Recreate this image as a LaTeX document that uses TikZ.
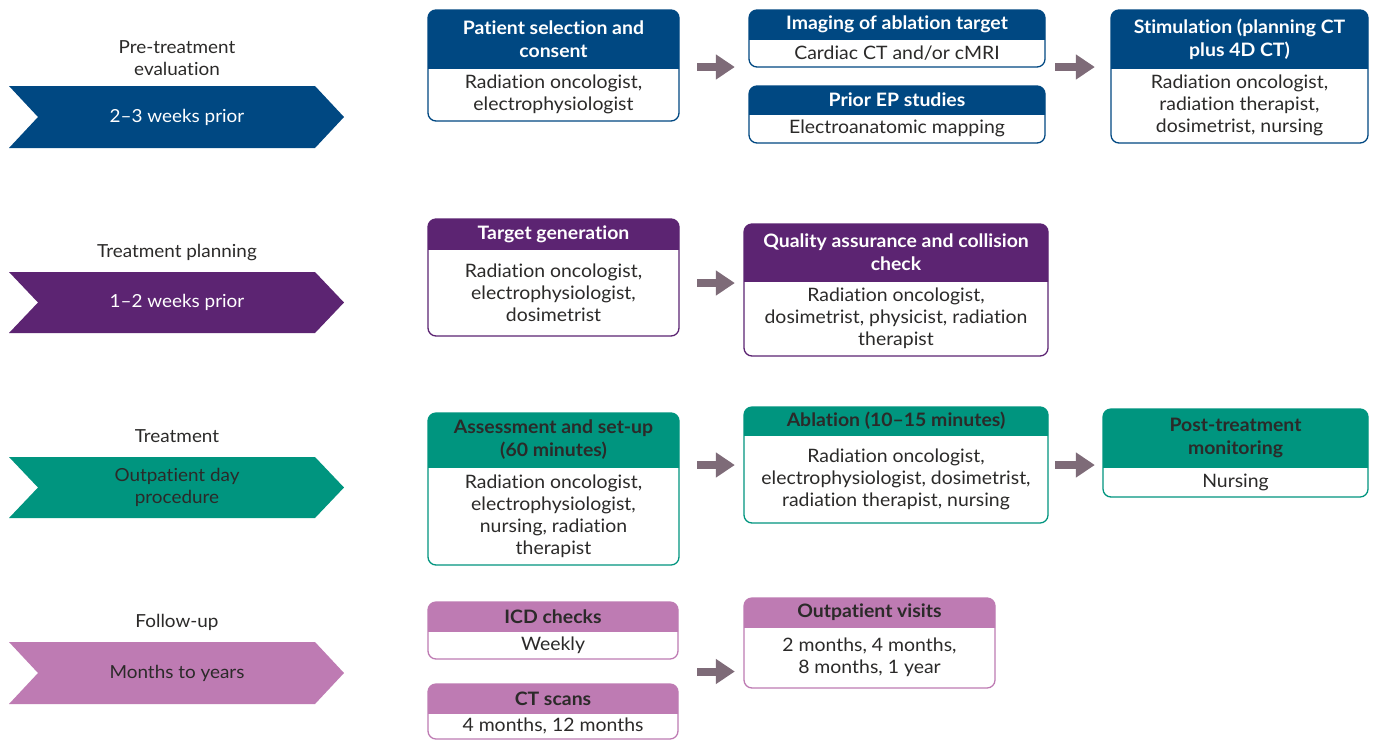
\documentclass[tikz,border=0pt]{standalone}
\usepackage{fontspec}
\setmainfont{Lato}[FakeStretch=1.05, Ligatures={NoCommon}]
\usetikzlibrary{arrows.meta,calc,fit}
\definecolor{cblue}{HTML}{004882}
\definecolor{cpurple}{HTML}{5C2472}
\definecolor{cteal}{HTML}{00957F}
\definecolor{cpink}{HTML}{BE7BB3}
\definecolor{ink}{HTML}{2B2A29}
\definecolor{arrowc}{HTML}{7E6B78}
\colorlet{hblue}{white}
\colorlet{hpurple}{white}
\colorlet{hteal}{ink}
\colorlet{hpink}{ink}
\tikzset{
  bodytext/.style={text=ink, align=center, font=\fontsize{18.5}{22}\selectfont, inner sep=0pt},
  hdtext/.style={align=center, font=\bfseries\fontsize{18.5}{23}\selectfont, inner sep=0pt},
  cardline/.style={line width=1.3pt, rounded corners=8pt},
  flow/.style={draw=arrowc, line width=8pt, -{Triangle[length=19pt,width=24pt]}},
  phase/.style={align=center, font=\fontsize{18}{22}\selectfont, inner sep=0pt},
}
% #1 name, #2 theme, #3 x1, #4 y1, #5 x2, #6 y header bottom, #7 y2, #8 header, #9 body
\newcommand\cardbox[9]{%
  \begin{scope}
    \clip (#3,#4) rectangle (#5,#6);
    \fill[c#2, rounded corners=8pt] (#3,#4) rectangle (#5,#7);
  \end{scope}
  \draw[c#2, cardline] (#3,#4) rectangle (#5,#7);
  \node[fit={(#3,#4)(#5,#7)}, inner sep=0pt] (#1) {};
  \node[hdtext, text=h#2] (#1-h) at ($(#3,#4)!0.5!(#5,#6)$) {#8};
  \node[bodytext] (#1-b) at ($(#3,#6)!0.5!(#5,#7)$) {#9};
}
% #1 name, #2 theme, #3 ytop, #4 ybottom, #5 text
\newcommand\chevron[5]{%
  \fill[c#2] (9,#3) -- (315,#3) -- (344,{(#3+#4)/2}) -- (315,#4) -- (9,#4) -- (38,{(#3+#4)/2}) -- cycle;
  \node[phase, text=h#2] (#1) at (177,{(#3+#4)/2}) {#5};
}
\begin{document}
\begin{tikzpicture}[x=1pt,y=-1pt]
\useasboundingbox (0,0) rectangle (1375,740);
\fill[white] (0,0) rectangle (1375,740);

% phase labels and chevrons
\node[phase, text=ink] (l1) at (177,58) {Pre-treatment\\evaluation};
\chevron{ch1}{blue}{86}{148}{2–3 weeks prior}
\node[phase, text=ink] (l2) at (177,253) {Treatment planning};
\chevron{ch2}{purple}{272}{333}{1–2 weeks prior}
\node[phase, text=ink] (l3) at (177,436) {Treatment};
\chevron{ch3}{teal}{457}{518}{Outpatient day\\procedure}
\node[phase, text=ink] (l4) at (177,622) {Follow-up};
\chevron{ch4}{pink}{642}{704}{Months to years}

% row 1
\cardbox{psel}{blue}{428}{10}{679}{68}{121}{Patient selection and\\consent}{Radiation oncologist,\\electrophysiologist}
\cardbox{img}{blue}{749}{10}{1045}{39}{67}{Imaging of ablation target}{Cardiac CT and/or cMRI}
\cardbox{prior}{blue}{749}{86}{1045}{114}{143}{Prior EP studies}{Electroanatomic mapping}
\cardbox{stim}{blue}{1111}{10}{1368}{68}{143}{Stimulation (planning CT\\plus 4D CT)}{Radiation oncologist,\\radiation therapist,\\dosimetrist, nursing}
% row 2
\cardbox{tg}{purple}{428}{219}{679}{249}{336}{Target generation}{Radiation oncologist,\\electrophysiologist,\\dosimetrist}
\cardbox{qa}{purple}{744}{224}{1048}{281}{356}{Quality assurance and collision\\check}{Radiation oncologist,\\dosimetrist, physicist, radiation\\therapist}
% row 3
\cardbox{asm}{teal}{428}{413}{679}{467}{565}{Assessment and set-up\\(60 minutes)}{Radiation oncologist,\\electrophysiologist,\\nursing, radiation\\therapist}
\cardbox{abl}{teal}{744}{407}{1048}{435}{523}{Ablation (10–15 minutes)}{Radiation oncologist,\\electrophysiologist, dosimetrist,\\radiation therapist, nursing}
\cardbox{post}{teal}{1103}{409}{1368}{467}{497}{Post-treatment\\monitoring}{Nursing}
% row 4
\cardbox{icd}{pink}{428}{602}{678}{631}{659}{ICD checks}{Weekly}
\cardbox{ct}{pink}{428}{684}{678}{713}{739}{CT scans}{4 months, 12 months}
\cardbox{ov}{pink}{744}{598}{995}{627}{688}{Outpatient visits}{2 months, 4 months,\\8 months, 1 year}

% connectors
\coordinate (r1) at (0,67);
\draw[flow, shorten <=18pt, shorten >=14pt] (psel.east |- r1) -- (img.west |- r1);
\draw[flow, shorten <=10pt, shorten >=16pt] (img.east |- r1) -- (stim.west |- r1);
\coordinate (r2) at (0,283);
\draw[flow, shorten <=18pt, shorten >=9pt] (tg.east |- r2) -- (qa.west |- r2);
\draw[flow, shorten <=18pt, shorten >=9pt] (asm.east |- abl.west) -- (abl.west);
\draw[flow, shorten <=7pt, shorten >=8pt] (abl.east) -- (abl.east -| post.west);
\coordinate (fu) at ($(icd.south east)!0.5!(ct.north east)$);
\draw[flow, shorten <=19pt, shorten >=9pt] (fu) -- (fu -| ov.west);
\end{tikzpicture}
\end{document}
